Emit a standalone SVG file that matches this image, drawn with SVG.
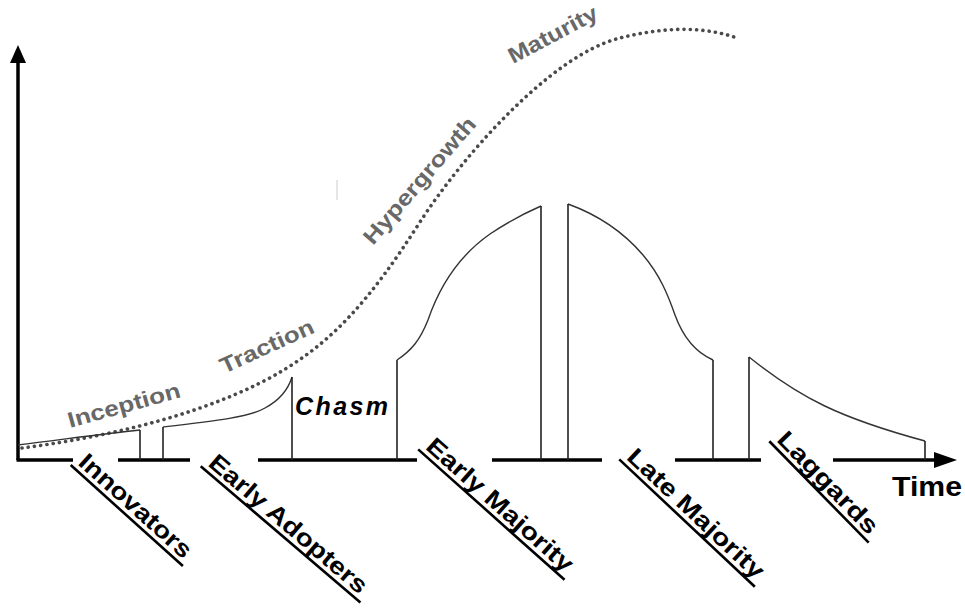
<svg xmlns="http://www.w3.org/2000/svg" width="965" height="608" viewBox="0 0 965 608">
<style>
.axis{stroke:#000;stroke-width:3.5;fill:none}
.curve{stroke:#333;stroke-width:1.4;fill:none}
.vline{stroke:#222;stroke-width:1.6}
.dots{stroke:#4a4a4a;stroke-width:3.6;fill:none;stroke-dasharray:0.1 6.2;stroke-linecap:round}
.phase{font-family:"Liberation Sans",Arial,sans-serif;font-weight:bold;font-size:22px;fill:#686868}
.seg{font-family:"Liberation Sans",Arial,sans-serif;font-weight:bold;font-size:24px;fill:#000}
.ul{stroke:#000;stroke-width:2.6}
</style>
<rect width="965" height="608" fill="#fff"/>
<g id="axes">
<line class="axis" x1="18" y1="460" x2="18" y2="58"/>
<polygon points="10,63 18,45 26,63" fill="#000"/>
<line class="axis" x1="16.5" y1="460" x2="73" y2="460"/>
<line class="axis" x1="118" y1="460" x2="190" y2="460"/>
<line class="axis" x1="258" y1="460" x2="417" y2="460"/>
<line class="axis" x1="492" y1="460" x2="602" y2="460"/>
<line class="axis" x1="675" y1="460" x2="761" y2="460"/>
<line class="axis" x1="833" y1="460" x2="940" y2="460"/>
<polygon points="934,452 957,460 934,468" fill="#000"/>
<text x="892" y="496" font-family="'Liberation Sans',Arial,sans-serif" font-weight="bold" font-size="28" textLength="70" lengthAdjust="spacingAndGlyphs">Time</text>
</g>
<g id="s-curve">
<path class="dots" d="M22,448 C100,438 190,418 260,383 C330,348 370,300 420,222 C460,160 550,55 620,38 C660,28 700,25 737,38"/>
</g>
<g id="bell">
<path class="curve" d="M18,445 C60,440 100,434 140,430"/>
<path class="curve" d="M163,427 C215,421 250,417 265,408 C280,400 288,390 292,377"/>
<path class="curve" d="M397,360 C412,350 420,340 428,320 C440,285 460,255 490,234 C508,222 525,213 541,206"/>
<path class="curve" d="M568,204 C590,212 620,228 643,255 C660,275 668,295 675,315 C683,337 695,352 713,360"/>
<path class="curve" d="M749,357 C800,398 840,418 925,441"/>
<line class="vline" x1="140" y1="430" x2="140" y2="460"/>
<line class="vline" x1="163" y1="427" x2="163" y2="460"/>
<line class="vline" x1="292" y1="377" x2="292" y2="460"/>
<line class="vline" x1="397" y1="360" x2="397" y2="460"/>
<line class="vline" x1="541" y1="206" x2="541" y2="460"/>
<line class="vline" x1="568" y1="204" x2="568" y2="460"/>
<line class="vline" x1="713" y1="360" x2="713" y2="460"/>
<line class="vline" x1="749" y1="357" x2="749" y2="460"/>
<line class="vline" x1="925" y1="441" x2="925" y2="460"/>
<line x1="337" y1="180" x2="337" y2="200" stroke="#ccc" stroke-width="1"/>
</g>
<g id="phases">
<text class="phase" transform="translate(70,428) rotate(-15.5)" textLength="116" lengthAdjust="spacingAndGlyphs">Inception</text>
<text class="phase" transform="translate(224,374) rotate(-24.5)" textLength="101" lengthAdjust="spacingAndGlyphs">Traction</text>
<text class="phase" transform="translate(373,246) rotate(-49.3)" textLength="160" lengthAdjust="spacingAndGlyphs">Hypergrowth</text>
<text class="phase" transform="translate(513,64) rotate(-28)" textLength="98" lengthAdjust="spacingAndGlyphs">Maturity</text>
</g>
<g id="chasm">
<text x="295" y="415" font-family="'Liberation Sans',Arial,sans-serif" font-weight="bold" font-style="italic" font-size="25" textLength="93">Chasm</text>
</g>
<g id="innovators" transform="translate(77,464) rotate(42)">
<text class="seg" x="0" y="0" textLength="143" lengthAdjust="spacingAndGlyphs">Innovators</text>
<line class="ul" x1="-4" y1="5" x2="147" y2="5"/>
</g>
<g id="early-adopters" transform="translate(207,465) rotate(40.5)">
<text class="seg" x="0" y="0" textLength="200" lengthAdjust="spacingAndGlyphs">Early Adopters</text>
<line class="ul" x1="-4" y1="5" x2="206" y2="5"/>
</g>
<g id="early-majority" transform="translate(424.5,448.3) rotate(41.7)">
<text class="seg" x="0" y="0" textLength="188" lengthAdjust="spacingAndGlyphs">Early Majority</text>
<line class="ul" x1="-4" y1="5" x2="192" y2="5"/>
</g>
<g id="late-majority" transform="translate(625.6,458.5) rotate(43.2)">
<text class="seg" x="0" y="0" textLength="178" lengthAdjust="spacingAndGlyphs">Late Majority</text>
<line class="ul" x1="-4" y1="5" x2="182" y2="5"/>
</g>
<g id="laggards" transform="translate(775.7,440.6) rotate(45.6)">
<text class="seg" x="0" y="0" textLength="133" lengthAdjust="spacingAndGlyphs">Laggards</text>
<line class="ul" x1="-4" y1="5" x2="138" y2="5"/>
</g>
</svg>
